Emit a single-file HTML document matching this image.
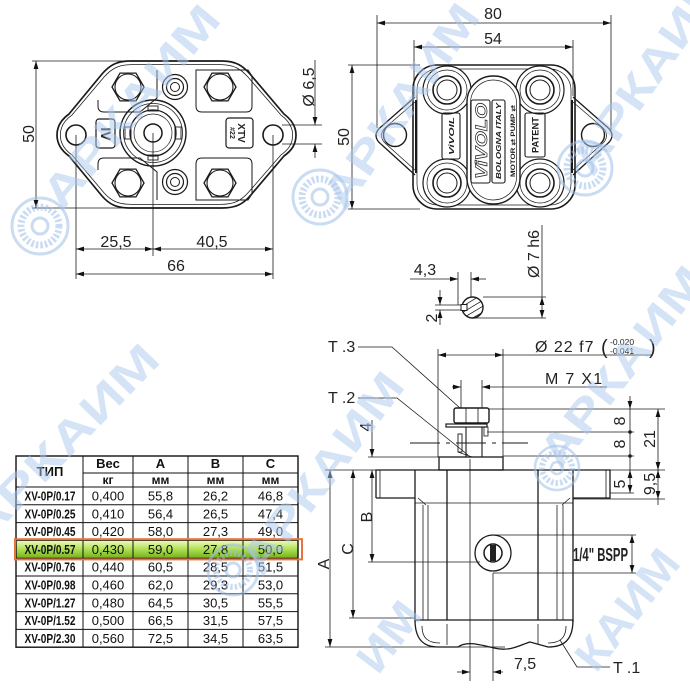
<!DOCTYPE html>
<html><head><meta charset="utf-8"><style>
html,body{margin:0;padding:0;background:#fff;width:690px;height:690px;overflow:hidden;}
svg{display:block;overflow:hidden;}
</style></head><body>
<svg width="690" height="690" viewBox="0 0 690 690" xmlns="http://www.w3.org/2000/svg" font-family="Liberation Sans, Arial, sans-serif">
<defs>
<marker id="a" viewBox="0 0 10 6" refX="10" refY="3" markerWidth="8" markerHeight="5" markerUnits="userSpaceOnUse" orient="auto-start-reverse"><path d="M0,0 L10,3 L0,6 z" fill="#111"/></marker>
<linearGradient id="g" x1="0" y1="0" x2="0" y2="1"><stop offset="0" stop-color="#eefac4"/><stop offset="0.45" stop-color="#b5e35a"/><stop offset="1" stop-color="#6fb41c"/></linearGradient>
<clipPath id="sc"><circle cx="472.5" cy="307.5" r="10.5"/></clipPath>
<clipPath id="page"><rect x="0" y="0" width="690" height="690"/></clipPath>
</defs>
<rect width="690" height="690" fill="#fff"/>

<!-- ================= LEFT TOP VIEW ================= -->
<g fill="none" stroke="#1a1a1a">
<path stroke-width="1.7" d="M130,61 L222,61 C236,61 243,66 250,74 L284,114 C292,120 296,127 296,135 C296,145 291,151 284,156 L250,196 C243,204 236,208 222,208 L130,208 C116,208 109,204 102,196 L69,156 C62,151 57,144 57,135 C57,126 62,119 69,114 L102,74 C109,66 116,61 130,61 Z"/>
<path stroke-width="0.8" transform="translate(176,134.5) scale(0.972,0.95) translate(-176,-134.5)" d="M130,61 L222,61 C236,61 243,66 250,74 L284,114 C292,120 296,127 296,135 C296,145 291,151 284,156 L250,196 C243,204 236,208 222,208 L130,208 C116,208 109,204 102,196 L69,156 C62,151 57,144 57,135 C57,126 62,119 69,114 L102,74 C109,66 116,61 130,61 Z"/>
<g stroke-width="1">
<path d="M157,70 L157,98 L140,112 L104,112 Q98,112 98,106 L98,100"/>
<path d="M196,70 L248,70 L252,76 L252,106 Q252,112 246,112 L202,112 Q196,112 196,106 Z"/>
<path d="M157,200 L157,172 L140,158 L104,158 Q98,158 98,164 L98,170"/>
<path d="M196,200 L248,200 L252,194 L252,164 Q252,158 246,158 L202,158 Q196,158 196,164 Z"/>
</g>
<g stroke-width="1.3" fill="#fff">
<polygon points="144,87 136,100.9 120,100.9 112,87 120,73.1 136,73.1"/>
<polygon points="236,87 228,100.9 212,100.9 204,87 212,73.1 228,73.1"/>
<polygon points="144,183 136,196.9 120,196.9 112,183 120,169.1 136,169.1"/>
<polygon points="236,183 228,196.9 212,196.9 204,183 212,169.1 228,169.1"/>
</g>
<g stroke-width="1.1">
<circle cx="128" cy="87" r="13"/><circle cx="220" cy="87" r="13"/>
<circle cx="128" cy="183" r="13"/><circle cx="220" cy="183" r="13"/>
</g>
<circle cx="175" cy="87" r="12.5" stroke-width="1.2"/><circle cx="175" cy="87" r="8.5" stroke-width="1.2"/><circle cx="175" cy="87" r="4.5" stroke-width="1"/>
<circle cx="175" cy="182" r="12.5" stroke-width="1.2"/><circle cx="175" cy="182" r="8.5" stroke-width="1.2"/><circle cx="175" cy="182" r="4.5" stroke-width="1"/>
<circle cx="153" cy="133" r="33" stroke-width="1.4"/>
<circle cx="153" cy="133" r="29.5" stroke-width="0.8"/>
<circle cx="153" cy="133" r="23" stroke-width="1.3"/>
<circle cx="153" cy="133" r="19" stroke-width="0.7"/>
<circle cx="153" cy="133" r="9" stroke-width="1.5"/>
<rect x="125" y="127" width="6" height="12" stroke-width="0.9"/>
<rect x="148" y="106" width="10" height="5" stroke-width="0.9"/>
<rect x="148" y="155" width="10" height="5" stroke-width="0.9"/>
<rect x="175" y="127" width="6" height="12" stroke-width="0.9"/>
<circle cx="76" cy="135" r="10" stroke-width="1.6"/>
<circle cx="273" cy="135" r="10" stroke-width="1.6"/>
<rect x="96" y="119" width="19" height="29" rx="3" stroke-width="1.2"/>
<rect x="226" y="118" width="27" height="30" rx="3" stroke-width="1.2"/>
</g>
<g fill="#222" font-weight="bold">
<text transform="translate(101,134) rotate(90)" font-size="14" text-anchor="middle">IV</text>
<text transform="translate(238,133) rotate(90)" font-size="10" text-anchor="middle">XTV</text>
<text transform="translate(230,133) rotate(90)" font-size="7" text-anchor="middle">#22</text>
</g>
<g stroke="#1a1a1a" stroke-width="0.8" fill="none">
<line x1="32" y1="61" x2="130" y2="61"/>
<line x1="32" y1="208" x2="130" y2="208"/>
<line x1="36" y1="61" x2="36" y2="208" marker-start="url(#a)" marker-end="url(#a)"/>
<line x1="282" y1="125" x2="322" y2="125"/>
<line x1="282" y1="144" x2="322" y2="144"/>
<line x1="315" y1="60" x2="315" y2="125" marker-end="url(#a)"/>
<line x1="315" y1="158" x2="315" y2="144" marker-end="url(#a)"/>
<line x1="76" y1="135" x2="76" y2="279"/>
<line x1="153" y1="133" x2="153" y2="256"/>
<line x1="273" y1="135" x2="273" y2="279"/>
<line x1="76" y1="249" x2="153" y2="249" marker-start="url(#a)" marker-end="url(#a)"/>
<line x1="153" y1="249" x2="273" y2="249" marker-start="url(#a)" marker-end="url(#a)"/>
<line x1="76" y1="274" x2="273" y2="274" marker-start="url(#a)" marker-end="url(#a)"/>
</g>
<g fill="#222" font-size="16">
<text transform="translate(34,134) rotate(-90)" text-anchor="middle">50</text>
<text transform="translate(314,87) rotate(-90)" text-anchor="middle">Ø 6,5</text>
<text x="116" y="247" text-anchor="middle">25,5</text>
<text x="212" y="247" text-anchor="middle">40,5</text>
<text x="176" y="271" text-anchor="middle">66</text>
</g>

<!-- ================= RIGHT TOP VIEW ================= -->
<g fill="none" stroke="#1a1a1a">
<path stroke-width="1.3" d="M415,97 L382,126 C374,132 374,139 382,145 L415,175"/>
<path stroke-width="0.7" d="M415,102 L386,127 C380,132 380,139 386,144 L415,170"/>
<path stroke-width="1.3" d="M573,97 L606,126 C614,132 614,139 606,145 L573,175"/>
<path stroke-width="0.7" d="M573,102 L602,127 C608,132 608,139 602,144 L573,170"/>
<circle cx="395" cy="135" r="11.5" stroke-width="1.4"/>
<circle cx="593" cy="135" r="11.5" stroke-width="1.4"/>
<rect x="413" y="65" width="162" height="144" rx="24" stroke-width="1.6"/>
<rect x="417" y="69" width="154" height="136" rx="21" stroke-width="0.7"/>
<line x1="416" y1="100" x2="416" y2="173" stroke-width="2"/>
<line x1="572" y1="100" x2="572" y2="173" stroke-width="2"/>
<g fill="#fff" stroke-width="1.2">
<circle cx="447" cy="90" r="24"/><circle cx="540" cy="90" r="24"/>
<circle cx="447" cy="183" r="24"/><circle cx="540" cy="183" r="24"/>
</g>
<g stroke-width="0.7">
<circle cx="447" cy="90" r="20"/><circle cx="540" cy="90" r="20"/>
<circle cx="447" cy="183" r="20"/><circle cx="540" cy="183" r="20"/>
</g>
<g stroke-width="1.6">
<circle cx="447" cy="90" r="14"/><circle cx="540" cy="90" r="14"/>
<circle cx="447" cy="183" r="14"/><circle cx="540" cy="183" r="14"/>
</g>
<g stroke-width="1">
<circle cx="447" cy="90" r="10"/><circle cx="540" cy="90" r="10"/>
<circle cx="447" cy="183" r="10"/><circle cx="540" cy="183" r="10"/>
</g>
<rect x="467" y="76" width="53" height="128" rx="26" stroke-width="1.4" fill="#fff"/>
<rect x="470.5" y="80" width="46" height="120" rx="23" stroke-width="0.7"/>
<rect x="471" y="100" width="19" height="83" rx="2" stroke-width="1.1"/>
<rect x="492" y="100" width="13" height="83" rx="2" stroke-width="1.1"/>
<rect x="442" y="113" width="18" height="46" rx="2" stroke-width="1.1"/>
<rect x="525" y="113" width="20" height="44" rx="2" stroke-width="1.1"/>
</g>
<g fill="#222">
<text transform="translate(487,141) rotate(-90)" font-size="17" font-weight="bold" font-style="italic" text-anchor="middle" fill="none" stroke="#222" stroke-width="0.7" textLength="76" lengthAdjust="spacingAndGlyphs">ViVOLO</text>
<text transform="translate(501,141) rotate(-90)" font-size="7.5" font-weight="bold" font-style="italic" text-anchor="middle" textLength="76" lengthAdjust="spacingAndGlyphs">BOLOGNA  ITALY</text>
<text transform="translate(515,141) rotate(-90)" font-size="6" font-weight="bold" text-anchor="middle" textLength="72" lengthAdjust="spacingAndGlyphs">MOTOR ⇄            PUMP ⇄</text>
<text transform="translate(454,136) rotate(-90)" font-size="7" font-weight="bold" font-style="italic" text-anchor="middle" textLength="38" lengthAdjust="spacingAndGlyphs">ViVOIL</text>
<text transform="translate(538.5,135) rotate(-90)" font-size="9" font-weight="bold" text-anchor="middle" textLength="36" lengthAdjust="spacingAndGlyphs">PATENT</text>
</g>
<g stroke="#1a1a1a" stroke-width="0.8" fill="none">
<line x1="377" y1="15" x2="377" y2="128"/>
<line x1="611" y1="15" x2="611" y2="130"/>
<line x1="377" y1="23" x2="611" y2="23" marker-start="url(#a)" marker-end="url(#a)"/>
<line x1="414" y1="40" x2="414" y2="96"/>
<line x1="573" y1="40" x2="573" y2="96"/>
<line x1="414" y1="47" x2="573" y2="47" marker-start="url(#a)" marker-end="url(#a)"/>
<line x1="348" y1="65" x2="420" y2="65"/>
<line x1="348" y1="209" x2="420" y2="209"/>
<line x1="352" y1="65" x2="352" y2="209" marker-start="url(#a)" marker-end="url(#a)"/>
</g>
<g fill="#222" font-size="16">
<text x="493" y="19" text-anchor="middle">80</text>
<text x="493" y="44" text-anchor="middle">54</text>
<text transform="translate(349,137) rotate(-90)" text-anchor="middle">50</text>
</g>

<!-- ================= SHAFT SECTION ================= -->
<g stroke="#1a1a1a" fill="none">
<g clip-path="url(#sc)" stroke-width="0.8">
<line x1="455" y1="305" x2="480" y2="290"/><line x1="455" y1="311" x2="486" y2="292"/>
<line x1="455" y1="317" x2="490" y2="296"/><line x1="458" y1="321" x2="490" y2="302"/>
<line x1="464" y1="323" x2="490" y2="308"/><line x1="470" y1="325" x2="490" y2="314"/>
</g>
<circle cx="472.5" cy="307.5" r="10.5" stroke-width="1.4"/>
<rect x="461" y="304.5" width="6" height="6" fill="#fff" stroke-width="1"/>
<g stroke-width="0.8">
<line x1="458" y1="272" x2="458" y2="305"/>
<line x1="471" y1="272" x2="471" y2="297"/>
<line x1="410" y1="279" x2="458" y2="279" marker-end="url(#a)"/>
<line x1="486" y1="279" x2="471" y2="279" marker-end="url(#a)"/>
<line x1="435" y1="305" x2="461" y2="305"/>
<line x1="435" y1="310" x2="461" y2="310"/>
<line x1="440" y1="290" x2="440" y2="305" marker-end="url(#a)"/>
<line x1="440" y1="325" x2="440" y2="310" marker-end="url(#a)"/>
<line x1="483" y1="297" x2="546" y2="297"/>
<line x1="472" y1="318" x2="546" y2="318"/>
<line x1="542" y1="225" x2="542" y2="297"/>
<line x1="542" y1="297" x2="542" y2="318" marker-start="url(#a)" marker-end="url(#a)"/>
</g>
</g>
<g fill="#222" font-size="16">
<text x="425" y="275" text-anchor="middle">4,3</text>
<text transform="translate(437,318) rotate(-90)" text-anchor="middle">2</text>
<text transform="translate(539,254) rotate(-90)" text-anchor="middle">Ø 7 h6</text>
</g>

<!-- ================= SIDE VIEW ================= -->
<g stroke="#1a1a1a" fill="none">
<g stroke-width="1.3">
<rect x="439" y="457" width="64" height="13"/>
<path d="M376,498 L376,470 L610,470 L610,498 L573,498"/>
<path d="M376,498 L415,498"/>
<line x1="415" y1="470" x2="415" y2="622"/>
<line x1="573" y1="470" x2="573" y2="622"/>
<line x1="447" y1="470" x2="447" y2="620"/>
<line x1="538" y1="470" x2="538" y2="620"/>
<line x1="415" y1="620" x2="573" y2="620"/>
<path d="M415,620 C415,640 424,647 438,647 L458,647 C466,641 478,644 494,648 C510,652 520,645 530,642 L548,647 C564,647 573,640 573,620"/>
</g>
<g stroke-width="0.8">
<line x1="415" y1="503" x2="573" y2="503"/>
<line x1="423" y1="505" x2="423" y2="620"/>
<line x1="428" y1="505" x2="428" y2="620"/>
<line x1="557" y1="505" x2="557" y2="620"/>
<line x1="563" y1="505" x2="563" y2="620"/>
<line x1="380" y1="470" x2="380" y2="498"/>
<line x1="606" y1="470" x2="606" y2="498"/>
<path d="M418,498 L426,505 M570,498 L562,505"/>
<path d="M422,626 C422,638 428,643 440,643 M566,626 C566,638 560,643 548,643"/>
<line x1="447" y1="624" x2="447" y2="645"/>
<line x1="538" y1="624" x2="538" y2="644"/>
</g>
<circle cx="493" cy="553" r="18" stroke-width="1.3"/>
<circle cx="493" cy="553" r="9" stroke-width="1.5"/>
<rect x="490" y="545" width="6" height="16" fill="#222" stroke="none"/>
<rect x="454" y="408" width="35" height="15" rx="2" stroke-width="1.4"/>
<line x1="466" y1="408" x2="466" y2="423" stroke-width="0.8"/>
<line x1="478" y1="408" x2="478" y2="423" stroke-width="0.8"/>
<rect x="446" y="424" width="41" height="3" stroke-width="1.2"/>
<rect x="484" y="427" width="4" height="9" stroke-width="0.8"/>
<line x1="466" y1="427" x2="466" y2="457" stroke-width="1.1"/>
<line x1="482" y1="427" x2="482" y2="457" stroke-width="1.1"/>
<rect x="458" y="434" width="4" height="18" stroke-width="0.9"/>
<line x1="458" y1="452" x2="472" y2="457" stroke-width="0.9"/>
<line x1="410" y1="443" x2="528" y2="443" stroke-width="1" stroke-dasharray="30,6,4,6"/>
<g stroke-width="0.8">
<line x1="438" y1="349" x2="438" y2="457"/>
<line x1="503" y1="349" x2="503" y2="457"/>
<line x1="438" y1="355" x2="503" y2="355" marker-start="url(#a)" marker-end="url(#a)"/>
<line x1="503" y1="355" x2="652" y2="355"/>
<line x1="461" y1="380" x2="461" y2="408"/>
<line x1="482" y1="380" x2="482" y2="408"/>
<line x1="452" y1="387" x2="461" y2="387" marker-end="url(#a)"/>
<line x1="607" y1="387" x2="482" y2="387" marker-end="url(#a)"/>
<line x1="489" y1="409" x2="665" y2="409"/>
<line x1="487" y1="432" x2="634" y2="432"/>
<line x1="503" y1="456" x2="634" y2="456"/>
<line x1="610" y1="470" x2="665" y2="470"/>
<line x1="610" y1="493" x2="634" y2="493"/>
<line x1="573" y1="499" x2="665" y2="499"/>
<line x1="630" y1="396" x2="630" y2="409" marker-end="url(#a)"/>
<line x1="630" y1="409" x2="630" y2="470"/>
<line x1="630" y1="470" x2="630" y2="493" marker-start="url(#a)" marker-end="url(#a)"/>
<line x1="658" y1="409" x2="658" y2="470" marker-start="url(#a)" marker-end="url(#a)"/>
<line x1="658" y1="470" x2="658" y2="499" marker-start="url(#a)" marker-end="url(#a)"/>
<line x1="658" y1="499" x2="658" y2="505"/>
<line x1="368" y1="457" x2="439" y2="457"/>
<line x1="325" y1="470" x2="376" y2="470"/>
<line x1="368" y1="562" x2="480" y2="562"/>
<line x1="349" y1="618" x2="415" y2="618"/>
<line x1="325" y1="647" x2="505" y2="647"/>
<line x1="372" y1="420" x2="372" y2="457" marker-end="url(#a)"/>
<line x1="372" y1="470" x2="372" y2="562" marker-start="url(#a)" marker-end="url(#a)"/>
<line x1="353" y1="470" x2="353" y2="618" marker-start="url(#a)" marker-end="url(#a)"/>
<line x1="330" y1="470" x2="330" y2="647" marker-start="url(#a)" marker-end="url(#a)"/>
<line x1="493" y1="535" x2="636" y2="535"/>
<line x1="493" y1="573" x2="636" y2="573"/>
<line x1="632" y1="535" x2="632" y2="573" marker-start="url(#a)" marker-end="url(#a)"/>
<line x1="470" y1="459" x2="470" y2="681"/>
<line x1="493" y1="573" x2="493" y2="681"/>
<line x1="457" y1="672" x2="470" y2="672" marker-end="url(#a)"/>
<line x1="503" y1="672" x2="493" y2="672" marker-end="url(#a)"/>
<polyline points="358,347 392,347 460,408"/>
<polyline points="358,398 397,398 468,455"/>
<polyline points="560,640 577,667 610,667"/>
</g>
</g>
<g fill="#1a1a1a"><circle cx="630" cy="432" r="1.8"/><circle cx="630" cy="456" r="1.8"/></g>
<g fill="#222" font-size="16">
<text x="328" y="352">T .3</text>
<text x="328" y="403">T .2</text>
<text x="613" y="673">T .1</text>
<text x="535" y="352" letter-spacing="1">Ø 22 f7</text>
<text x="601" y="354" font-size="20">(</text>
<text x="649" y="354" font-size="20">)</text>
<text x="610" y="345" font-size="8.5">-0.020</text>
<text x="610" y="354" font-size="8.5">-0.041</text>
<text x="545" y="384" letter-spacing="1.3">M 7 X1</text>
<text x="525" y="669" text-anchor="middle">7,5</text>
<text transform="translate(625,421) rotate(-90)" text-anchor="middle">8</text>
<text transform="translate(625,444) rotate(-90)" text-anchor="middle">8</text>
<text transform="translate(655,439) rotate(-90)" text-anchor="middle">21</text>
<text transform="translate(625,484) rotate(-90)" text-anchor="middle">5</text>
<text transform="translate(655,484) rotate(-90)" text-anchor="middle">9,5</text>
<text transform="translate(371,427) rotate(-90)" text-anchor="middle">4</text>
<text transform="translate(372,517) rotate(-90)" text-anchor="middle">B</text>
<text transform="translate(353,549) rotate(-90)" text-anchor="middle">C</text>
<text transform="translate(329,564) rotate(-90)" text-anchor="middle">A</text>
<text x="573" y="561" font-size="18" font-weight="bold" font-family="Liberation Sans Narrow, Liberation Sans, sans-serif" textLength="55" lengthAdjust="spacingAndGlyphs">1/4" BSPP</text>
</g>

<!-- ================= TABLE ================= -->
<rect x="16" y="540.4" width="282" height="17.8" fill="url(#g)"/>
<g stroke="#111" fill="none">
<rect x="16" y="456" width="282" height="191.2" stroke-width="1.4"/>
<g stroke-width="1">
<line x1="83" y1="473" x2="298" y2="473"/>
<line x1="16" y1="487" x2="298" y2="487"/>
<line x1="16" y1="504.8" x2="298" y2="504.8"/>
<line x1="16" y1="522.6" x2="298" y2="522.6"/>
<line x1="16" y1="540.4" x2="298" y2="540.4"/>
<line x1="16" y1="558.2" x2="298" y2="558.2"/>
<line x1="16" y1="576" x2="298" y2="576"/>
<line x1="16" y1="593.8" x2="298" y2="593.8"/>
<line x1="16" y1="611.6" x2="298" y2="611.6"/>
<line x1="16" y1="629.4" x2="298" y2="629.4"/>
<line x1="83" y1="456" x2="83" y2="647"/>
<line x1="133" y1="456" x2="133" y2="647"/>
<line x1="188" y1="456" x2="188" y2="647"/>
<line x1="243" y1="456" x2="243" y2="647"/>
</g>
</g>
<rect x="15" y="539.2" width="287" height="20.2" fill="none" stroke="#e8743b" stroke-width="2"/>
<g fill="#111" font-size="13" font-family="Liberation Sans Narrow, Liberation Sans, Arial Narrow, sans-serif" text-anchor="middle">
<g font-weight="bold">
<text x="50" y="476">ТИП</text>
<text x="108" y="468">Вес</text><text x="160.5" y="468">А</text><text x="215.5" y="468">В</text><text x="270.5" y="468">С</text>
<text x="108" y="484" font-size="12">кг</text><text x="160.5" y="484" font-size="12">мм</text><text x="215.5" y="484" font-size="12">мм</text><text x="270.5" y="484" font-size="12">мм</text>
<text x="50" y="500.5" textLength="51" lengthAdjust="spacingAndGlyphs">XV-0P/0.17</text>
<text x="50" y="518.3" textLength="51" lengthAdjust="spacingAndGlyphs">XV-0P/0.25</text>
<text x="50" y="536.1" textLength="51" lengthAdjust="spacingAndGlyphs">XV-0P/0.45</text>
<text x="50" y="553.9" textLength="51" lengthAdjust="spacingAndGlyphs">XV-0P/0.57</text>
<text x="50" y="571.7" textLength="51" lengthAdjust="spacingAndGlyphs">XV-0P/0.76</text>
<text x="50" y="589.5" textLength="51" lengthAdjust="spacingAndGlyphs">XV-0P/0.98</text>
<text x="50" y="607.3" textLength="51" lengthAdjust="spacingAndGlyphs">XV-0P/1.27</text>
<text x="50" y="625.1" textLength="51" lengthAdjust="spacingAndGlyphs">XV-0P/1.52</text>
<text x="50" y="642.9" textLength="51" lengthAdjust="spacingAndGlyphs">XV-0P/2.30</text>
</g>
<text x="108" y="500.5">0,400</text><text x="160.5" y="500.5">55,8</text><text x="215.5" y="500.5">26,2</text><text x="270.5" y="500.5">46,8</text>
<text x="108" y="518.3">0,410</text><text x="160.5" y="518.3">56,4</text><text x="215.5" y="518.3">26,5</text><text x="270.5" y="518.3">47,4</text>
<text x="108" y="536.1">0,420</text><text x="160.5" y="536.1">58,0</text><text x="215.5" y="536.1">27,3</text><text x="270.5" y="536.1">49,0</text>
<text x="108" y="553.9">0,430</text><text x="160.5" y="553.9">59,0</text><text x="215.5" y="553.9">27,8</text><text x="270.5" y="553.9">50,0</text>
<text x="108" y="571.7">0,440</text><text x="160.5" y="571.7">60,5</text><text x="215.5" y="571.7">28,5</text><text x="270.5" y="571.7">51,5</text>
<text x="108" y="589.5">0,460</text><text x="160.5" y="589.5">62,0</text><text x="215.5" y="589.5">29,3</text><text x="270.5" y="589.5">53,0</text>
<text x="108" y="607.3">0,480</text><text x="160.5" y="607.3">64,5</text><text x="215.5" y="607.3">30,5</text><text x="270.5" y="607.3">55,5</text>
<text x="108" y="625.1">0,500</text><text x="160.5" y="625.1">66,5</text><text x="215.5" y="625.1">31,5</text><text x="270.5" y="625.1">57,5</text>
<text x="108" y="642.9">0,560</text><text x="160.5" y="642.9">72,5</text><text x="215.5" y="642.9">34,5</text><text x="270.5" y="642.9">63,5</text>
</g>

<!-- ================= WATERMARKS ================= -->
<g clip-path="url(#page)">
<g opacity="0.55" fill="none" stroke="#9fbfe8">
<g transform="translate(40,226)"><circle r="28" stroke-width="3"/><circle r="19" stroke-width="7" stroke-dasharray="2.5,2"/><circle r="8" stroke-width="3"/></g>
<g transform="translate(320,197)"><circle r="27" stroke-width="3"/><circle r="18" stroke-width="7" stroke-dasharray="2.5,2"/><circle r="8" stroke-width="3"/></g>
<g transform="translate(585,168)"><circle r="27" stroke-width="3"/><circle r="18" stroke-width="7" stroke-dasharray="2.5,2"/><circle r="8" stroke-width="3"/></g>
<g transform="translate(557,468)"><circle r="22" stroke-width="2.5"/><circle r="15" stroke-width="6" stroke-dasharray="2.5,2"/><circle r="6" stroke-width="2.5"/></g>
<g transform="translate(233,570)"><circle r="25" stroke-width="3"/><circle r="17" stroke-width="6" stroke-dasharray="2.5,2"/><circle r="7" stroke-width="3"/></g>
</g>
<g fill="#a9c6ec" opacity="0.5" font-weight="bold" font-size="44">
<text transform="translate(62,212) rotate(-50)" textLength="250" lengthAdjust="spacingAndGlyphs">АРКАИМ</text>
<text transform="translate(345,212) rotate(-55)" textLength="238" lengthAdjust="spacingAndGlyphs">АРКАИМ</text>
<text transform="translate(593,178) rotate(-55)" textLength="240" lengthAdjust="spacingAndGlyphs">АРКАИМ</text>
<text transform="translate(-15,545) rotate(-46)" textLength="255" lengthAdjust="spacingAndGlyphs">АРКАИМ</text>
<text transform="translate(262,578) rotate(-53)" textLength="240" lengthAdjust="spacingAndGlyphs">АРКАИМ</text>
<text transform="translate(560,470) rotate(-52)" textLength="240" lengthAdjust="spacingAndGlyphs">АРКАИМ</text>
<text transform="translate(378,676) rotate(-53)" textLength="76" lengthAdjust="spacingAndGlyphs">ИМ</text>
<text transform="translate(596,674) rotate(-52)" textLength="140" lengthAdjust="spacingAndGlyphs">КАИМ</text>
</g>
</g>
</svg>
</body></html>
